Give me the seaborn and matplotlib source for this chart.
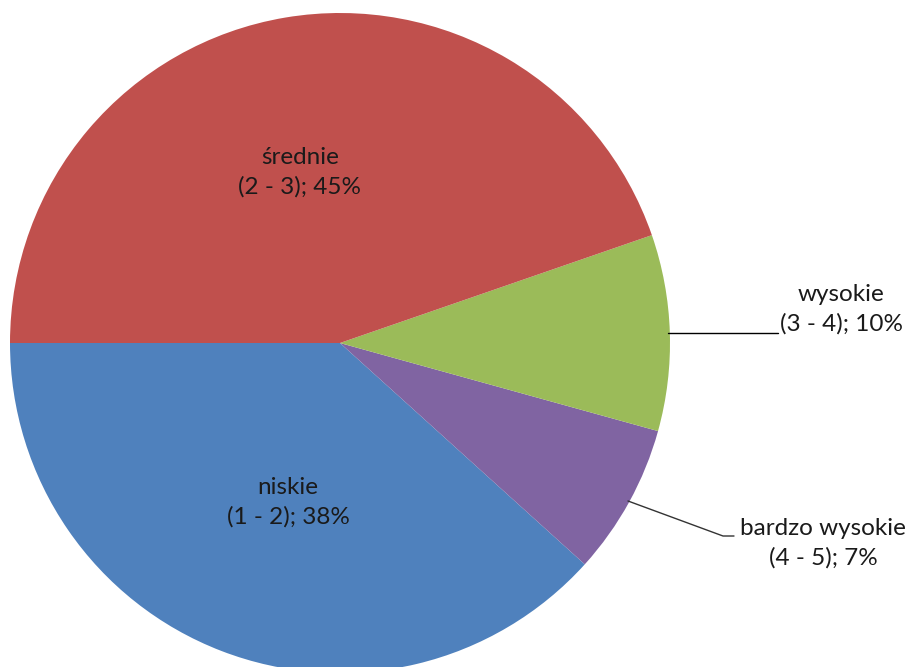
import seaborn as sns
import matplotlib.pyplot as plt

labels = ["niskie", "bardzo wysokie", "wysokie", "średnie"]
ranges = ["(1 - 2)", "(4 - 5)", "(3 - 4)", "(2 - 3)"]
shares = [38.3, 7.4, 9.6, 44.7]
pct_labels = ["38%", "7%", "10%", "45%"]
colors = ["#4F81BD", "#8064A2", "#9BBB59", "#C0504D"]

sns.set_theme(style="white")
plt.rcParams["font.family"] = ["Lato", "DejaVu Sans"]

fig = plt.figure(figsize=(9.11, 6.67), dpi=100)
# pie centre at (340, 343) px, radius 330 px
R = 330
ax = fig.add_axes([(340 - R) / 911, (667 - 343 - R) / 667, 2 * R / 911, 2 * R / 667])
ax.pie(shares, colors=colors, startangle=180, counterclock=True, radius=1,
       wedgeprops=dict(linewidth=0))
ax.set_xlim(-1, 1)
ax.set_ylim(-1, 1)
ax.set_aspect("auto")
ax.axis("off")


def px(x, y):
    return (x - 340) / R, (343 - y) / R


text_pos = {"średnie": (300, 172), "niskie": (288, 502),
            "wysokie": (841, 309), "bardzo wysokie": (823, 543)}
for lab, rng, p in zip(labels, ranges, pct_labels):
    x, y = px(*text_pos[lab])
    ax.text(x, y, f"{lab}\n{rng}; {p}", ha="center", va="center", fontsize=17.5,
            color="#1a1a1a", linespacing=1.45, clip_on=False)

# leader lines
xs, ys = zip(px(668, 333), px(778, 333))
ax.plot(xs, ys, color="black", lw=1, clip_on=False)
xs, ys = zip(px(628, 501), px(723, 536), px(734, 536))
ax.plot(xs, ys, color="#333333", lw=1, clip_on=False)

fig.savefig("out.png", dpi=100)
